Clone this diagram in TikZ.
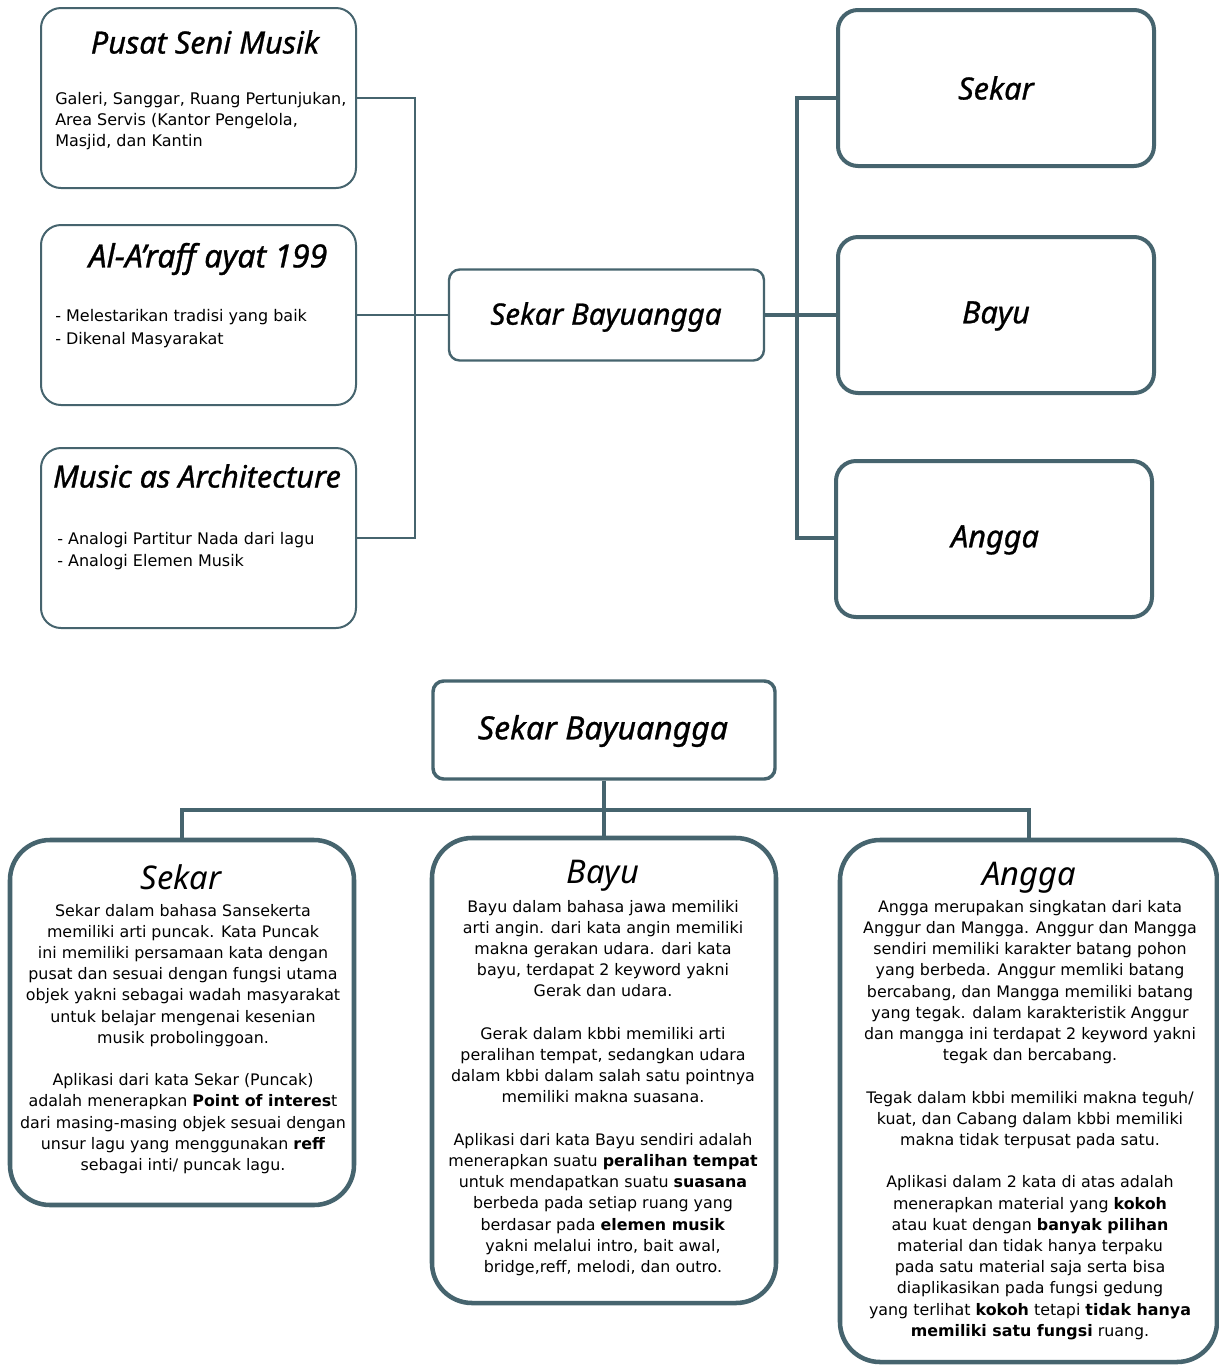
\documentclass[tikz,border=0pt]{standalone}
\usepackage{fontspec}
\setmainfont{DejaVu Sans}
\newfontfamily\titlefont{Noto Sans}
\newfontfamily\titlemed{Noto Sans}[FakeBold=0.9]
\usetikzlibrary{calc}
\definecolor{edge}{RGB}{70,100,110}
\begin{document}
\begin{tikzpicture}[x=0.75pt,y=-0.75pt,
  lbox/.style={draw=edge,line width=1.5pt,rounded corners=15pt,minimum width=236.25pt,minimum height=135pt,inner sep=0pt},
  sbtopbox/.style={draw=edge,line width=1.8pt,rounded corners=8pt,minimum width=236.25pt,minimum height=68.25pt,inner sep=0pt},
  rbox/.style={draw=edge,line width=3pt,rounded corners=15pt,minimum width=237pt,minimum height=117pt,inner sep=0pt},
  sbbotbox/.style={draw=edge,line width=2.6pt,rounded corners=8pt,minimum width=256.5pt,minimum height=73.5pt,inner sep=0pt},
  bbox/.style={draw=edge,line width=3.4pt,rounded corners=30pt,inner sep=0pt},
  ttl/.style={inner sep=0pt,font=\titlemed\itshape\fontsize{23}{26}\selectfont},
  bttl/.style={inner sep=0pt,font=\titlefont\bfseries\itshape\fontsize{24.5}{27}\selectfont},
  lbody/.style={inner sep=0pt,align=left,anchor=west,font=\fontsize{12}{15.75}\selectfont},
  cbody/.style={inner sep=0pt,align=center,font=\fontsize{11.9}{15.9}\selectfont},
  thinline/.style={draw=edge,line width=1.5pt},
  thickline/.style={draw=edge,line width=3pt}
]
\useasboundingbox (0,0) rectangle (1219,1365);
\fill[white] (0,0) rectangle (1219,1365);

% ---------- top left boxes ----------
\node[lbox] (pusat) at (198.5,98) {};
\node[lbox] (alaraff) at (198.5,315) {};
\node[lbox] (music) at (198.5,538) {};

\node[ttl] (pusatT) at (205,42) {Pusat Seni Musik};
\node[lbody] (pusatB) at (55,121) {Galeri, Sanggar, Ruang Pertunjukan,\\Area Servis (Kantor Pengelola,\\Masjid, dan Kantin};

\node[ttl,font=\titlemed\itshape\fontsize{24}{27}\selectfont] (alaraffT) at (208,259) {Al-A’raff ayat 199};
\node[lbody,font=\fontsize{12}{17}\selectfont] (alaraffB) at (55,328.5) {- Melestarikan tradisi yang baik\\- Dikenal Masyarakat};

\node[ttl] (musicT) at (197,476) {Music as Architecture};
\node[lbody,font=\fontsize{12}{16.5}\selectfont] (musicB) at (57,551) {- Analogi Partitur Nada dari lagu\\- Analogi Elemen Musik};

% ---------- centre top ----------
\node[sbtopbox] (sbtop) at (606.5,315) {};
\node[ttl,font=\titlemed\itshape\fontsize{22.2}{25}\selectfont] (sbtopT) at (606,317) {Sekar Bayuangga};

% ---------- right boxes ----------
\node[rbox] (sekar) at (996,88) {};
\node[rbox] (bayu) at (996,315) {};
\node[rbox] (angga) at (994,539) {};
\node[ttl] (sekarT) at (996,88) {Sekar};
\node[ttl] (bayuT) at (996,316) {Bayu};
\node[ttl] (anggaT) at (995,540) {Angga};

% ---------- connectors top ----------
\coordinate (jL) at (415,315);
\coordinate (jR) at (797,315);
\draw[thinline] (pusat.east) -| (jL);
\draw[thinline] (music.east) -| (jL);
\draw[thinline] (alaraff.east) -- (sbtop.west);
\draw[thickline] (sbtop.east) -- (bayu.west);
\draw[thickline] (jR) |- (sekar.west |- pusat.east);
\draw[thickline] (jR) |- (angga.west |- music.east);

% ---------- bottom ----------
\node[sbbotbox] (sbbot) at (604,730) {};
\node[ttl,font=\titlemed\itshape\fontsize{24}{27}\selectfont] (sbbotT) at (603,731) {Sekar Bayuangga};

\node[bbox,minimum width=258pt,minimum height=273.75pt] (sekarB) at (182,1022.5) {};
\node[bbox,minimum width=258pt,minimum height=348.75pt] (bayuB) at (604,1070.5) {};
\node[bbox,minimum width=282.75pt,minimum height=391.5pt] (anggaB) at (1028.5,1101) {};

\coordinate (bus) at (604,810);
\draw[thickline] (sbbot.south) -- (sbbot.south |- bayuB.north);
\draw[thickline] (sekarB.north) -- (sekarB.north |- bus) -- (anggaB.north |- bus) -- (anggaB.north);

\node[bttl] (sekarBT) at (181,877) {Sekar};
\node[bttl] (bayuBT) at (603,876) {Bayu};
\node[bttl] (anggaBT) at (1029,878) {Angga};

\node[cbody] (sekarBB) at (183,1039) {Sekar dalam bahasa Sansekerta\\
memiliki arti puncak. Kata Puncak\\
ini memiliki persamaan kata dengan\\
pusat dan sesuai dengan fungsi utama\\
objek yakni sebagai wadah masyarakat\\
untuk belajar mengenai kesenian\\
musik probolinggoan.\\
\mbox{}\\
Aplikasi dari kata Sekar (Puncak)\\
adalah menerapkan \textbf{Point of interes}t\\
dari masing-masing objek sesuai dengan\\
unsur lagu yang menggunakan \textbf{reff}\\
sebagai inti/ puncak lagu.};

\node[cbody] (bayuBB) at (603,1088) {Bayu dalam bahasa jawa memiliki\\
arti angin. dari kata angin memiliki\\
makna gerakan udara. dari kata\\
bayu, terdapat 2 keyword yakni\\
Gerak dan udara.\\
\mbox{}\\
Gerak dalam kbbi memiliki arti\\
peralihan tempat, sedangkan udara\\
dalam kbbi dalam salah satu pointnya\\
memiliki makna suasana.\\
\mbox{}\\
Aplikasi dari kata Bayu sendiri adalah\\
menerapkan suatu \textbf{peralihan tempat}\\
untuk mendapatkan suatu \textbf{suasana}\\
berbeda pada setiap ruang yang\\
berdasar pada \textbf{elemen musik}\\
yakni melalui intro, bait awal,\\
bridge,reff, melodi, dan outro.};

\node[cbody] (anggaBB) at (1030,1120) {Angga merupakan singkatan dari kata\\
Anggur dan Mangga. Anggur dan Mangga\\
sendiri memiliki karakter batang pohon\\
yang berbeda. Anggur memliki batang\\
bercabang, dan Mangga memiliki batang\\
yang tegak. dalam karakteristik Anggur\\
dan mangga ini terdapat 2 keyword yakni\\
tegak dan bercabang.\\
\mbox{}\\
Tegak dalam kbbi memiliki makna teguh/\\
kuat, dan Cabang dalam kbbi memiliki\\
makna tidak terpusat pada satu.\\
\mbox{}\\
Aplikasi dalam 2 kata di atas adalah\\
menerapkan material yang \textbf{kokoh}\\
atau kuat dengan \textbf{banyak pilihan}\\
material dan tidak hanya terpaku\\
pada satu material saja serta bisa\\
diaplikasikan pada fungsi gedung\\
yang terlihat \textbf{kokoh} tetapi \textbf{tidak hanya}\\
\textbf{memiliki satu fungsi} ruang.};
\end{tikzpicture}
\end{document}
